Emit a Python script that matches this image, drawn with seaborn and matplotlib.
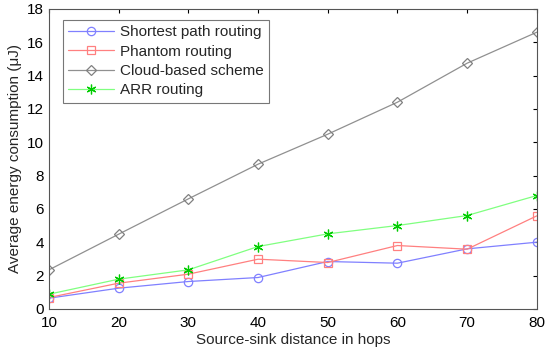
import matplotlib
matplotlib.use("Agg")
import matplotlib.pyplot as plt
import pandas as pd
import seaborn as sns

hops = [10, 20, 30, 40, 50, 60, 70, 80]
shortest = [0.64, 1.24, 1.64, 1.88, 2.84, 2.74, 3.60, 4.00]
phantom = [0.68, 1.54, 2.08, 2.98, 2.78, 3.80, 3.58, 5.58]
cloud = [2.34, 4.48, 6.60, 8.68, 10.48, 12.40, 14.74, 16.60]
arr = [0.88, 1.78, 2.34, 3.74, 4.50, 5.00, 5.60, 6.80]

sns.set_style("white")
plt.rcParams['font.family'] = ['Liberation Sans', 'DejaVu Sans']

fig = plt.figure(figsize=(5.5, 3.55), dpi=100)
ax = fig.add_axes([0.089, 0.130, 0.887, 0.845])

# name, values, line colour, marker colour, marker, size
series = [
    ("Shortest path routing", shortest, "#8080ff", "#8080ff", "o", 6),
    ("Phantom routing", phantom, "#ff8080", "#ff8080", "s", 6),
    ("Cloud-based scheme", cloud, "#909090", "#808080", "D", 5.5),
    ("ARR routing", arr, "#80ff80", "#00cc00", (6, 2, 0), 7),
]
for name, vals, lc, mc, mk, ms in series:
    df = pd.DataFrame({"x": hops, "y": vals})
    sns.lineplot(data=df, x="x", y="y", ax=ax, color=lc, linewidth=0.9,
                 marker=mk, markersize=ms, markerfacecolor="none",
                 markeredgecolor=mc, markeredgewidth=0.9, label=name)

ax.set_xlim(10, 80)
ax.set_ylim(0, 18)
ax.set_xticks(hops)
ax.set_yticks(range(0, 19, 2))
ax.tick_params(direction="in", top=True, right=True, length=3, labelsize=11, colors="black")
ax.tick_params(axis="x", pad=5)
for s in ax.spines.values():
    s.set_color("#555555")
    s.set_linewidth(0.8)
ax.set_xlabel("Source-sink distance in hops", fontsize=11, labelpad=2)
ax.set_ylabel("Average energy consumption (\u03bcJ)", fontsize=11)
leg = ax.legend(loc="upper left", bbox_to_anchor=(0.029, 0.963), borderaxespad=0,
                fontsize=11, frameon=True, fancybox=False, edgecolor="#555555",
                handlelength=3.0, handletextpad=0.4, borderpad=0.35, labelspacing=0.35)
leg.get_frame().set_linewidth(0.8)

plt.savefig("out.png", dpi=100)
plt.close()
